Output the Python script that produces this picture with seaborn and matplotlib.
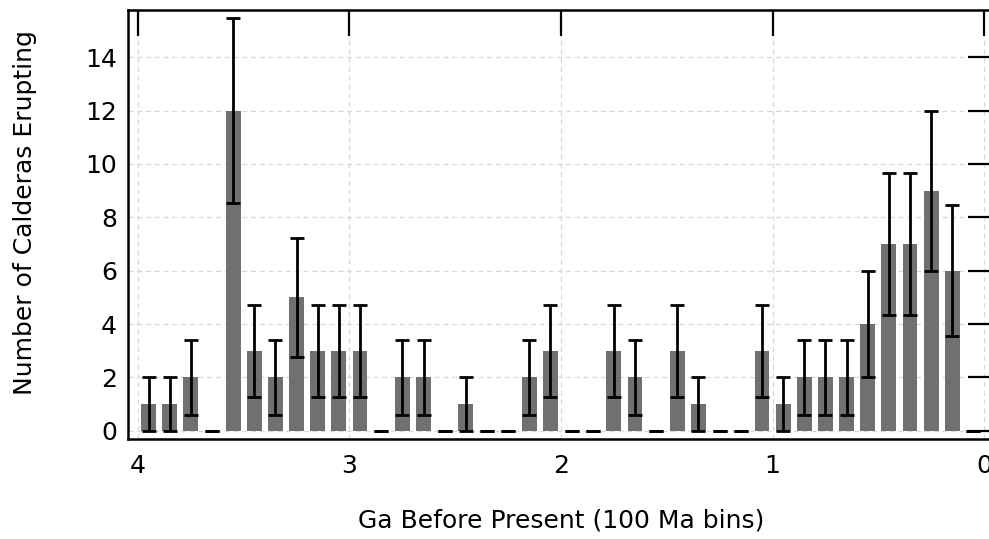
import matplotlib
matplotlib.use("Agg")
import matplotlib.pyplot as plt
import seaborn as sns
import pandas as pd

# bin centres (Ga before present, 100 Ma bins)
ages = [3.95, 3.85, 3.75, 3.65, 3.55, 3.45, 3.35, 3.25, 3.15, 3.05,
        2.95, 2.85, 2.75, 2.65, 2.55, 2.45, 2.35, 2.25, 2.15, 2.05,
        1.95, 1.85, 1.75, 1.65, 1.55, 1.45, 1.35, 1.25, 1.15, 1.05,
        0.95, 0.85, 0.75, 0.65, 0.55, 0.45, 0.35, 0.25, 0.15, 0.05]
counts = [1, 1, 2, 0, 12, 3, 2, 5, 3, 3,
          3, 0, 2, 2, 0, 1, 0, 0, 2, 3,
          0, 0, 3, 2, 0, 3, 1, 0, 0, 3,
          1, 2, 2, 2, 4, 7, 7, 9, 6, 0]
errors = [1.0, 1.0, 1.41, 0.0, 3.46, 1.73, 1.41, 2.24, 1.73, 1.73,
          1.73, 0.0, 1.41, 1.41, 0.0, 1.0, 0.0, 0.0, 1.41, 1.73,
          0.0, 0.0, 1.73, 1.41, 0.0, 1.73, 1.0, 0.0, 0.0, 1.73,
          1.0, 1.41, 1.41, 1.41, 2.0, 2.65, 2.65, 3.0, 2.45, 0.0]
xticks = [4, 3, 2, 1, 0]
yticks = [0, 2, 4, 6, 8, 10, 12, 14]

df = pd.DataFrame({'age': ages, 'n': counts})

sns.set_style('white')
plt.rcParams['font.family'] = ['DejaVu Sans']

W, H = 989, 539
fig = plt.figure(figsize=(W / 100, H / 100), dpi=100)
# right spine sits just past the image edge, like the cropped original
ax = fig.add_axes([128 / W, 1 - 439 / H, (994 - 128) / W, (439 - 9.5) / H])

sns.barplot(data=df, x='age', y='n', native_scale=True, width=0.7,
            color='#707070', saturation=1, edgecolor='none', ax=ax, zorder=2)
ax.errorbar(ages, counts, yerr=errors, fmt='none', ecolor='black',
            elinewidth=2, capsize=5, capthick=2, zorder=3)

ax.set_xlim(4.047, -0.047)
ax.set_ylim(-0.31, 15.79)
ax.set_xticks(xticks)
ax.set_yticks(yticks)
ax.set_xticklabels([str(t) for t in xticks])
ax.grid(True, color='#d8d8d8', linestyle=(0, (4, 3)), linewidth=0.9, zorder=0)
ax.set_axisbelow(True)

for s in ax.spines.values():
    s.set_visible(True)
    s.set_linewidth(1.8)
    s.set_color('black')

ax.tick_params(direction='in', length=19, width=1.6, top=True, right=True,
               labelsize=18, colors='black')
ax.tick_params(axis='y', pad=8)
ax.tick_params(axis='x', pad=11)

ax.set_xlabel('Ga Before Present (100 Ma bins)', fontsize=18, labelpad=22,
              color='black')
ax.set_ylabel('Number of Calderas Erupting', fontsize=18, color='black')
ax.yaxis.set_label_coords(-0.105, 0.528)

fig.savefig('out.png', dpi=100)
plt.close()
